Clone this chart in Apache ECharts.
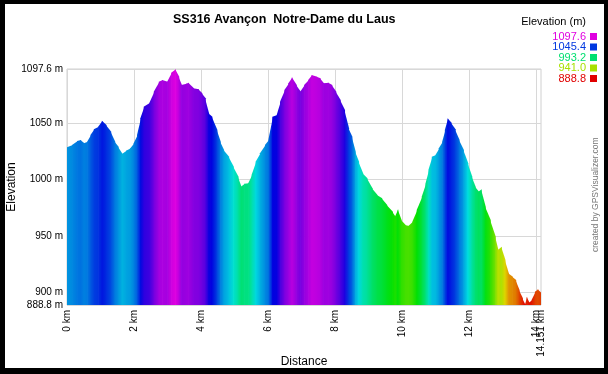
<!DOCTYPE html>
<html>
<head>
<meta charset="utf-8">
<script src="https://cdn.jsdelivr.net/npm/echarts@6/dist/echarts.min.js"></script>
<style>
html,body{margin:0;padding:0;background:#000;width:608px;height:374px;overflow:hidden;}
#bg{position:absolute;left:5px;top:4px;width:599px;height:364px;background:#fff;}
#c{position:absolute;left:0;top:0;width:608px;height:374px;}
</style>
</head>
<body>
<div id="bg"></div>
<div id="c"></div>
<script>
const titleText = 'SS316 Avançon  Notre-Dame du Laus';
const distanceKm = [0.00,0.15,0.30,0.40,0.50,0.60,0.70,0.80,0.93,1.04,1.16,1.30,1.42,1.52,1.64,1.76,1.89,1.99,2.09,2.19,2.29,2.46,2.59,2.74,2.84,2.99,3.11,3.23,3.33,3.41,3.55,3.62,3.77,3.92,4.02,4.12,4.22,4.32,4.47,4.57,4.67,4.82,4.96,5.10,5.19,5.29,5.41,5.51,5.63,5.76,5.91,6.01,6.13,6.26,6.36,6.49,6.61,6.71,6.84,6.96,7.08,7.20,7.30,7.45,7.55,7.65,7.80,7.90,8.02,8.15,8.28,8.40,8.50,8.60,8.70,8.82,8.95,9.10,9.25,9.39,9.54,9.71,9.79,9.87,9.97,10.09,10.19,10.31,10.44,10.59,10.70,10.79,10.89,11.00,11.10,11.20,11.28,11.36,11.46,11.58,11.70,11.83,11.96,12.08,12.18,12.28,12.36,12.48,12.63,12.78,12.86,12.96,13.07,13.17,13.29,13.39,13.49,13.59,13.67,13.72,13.79,13.87,13.97,14.05,14.151];
const elevationM = [1028.3,1030.4,1033.9,1034.8,1031.9,1033.3,1039.2,1044.2,1046.6,1051.9,1048.0,1042.1,1033.3,1028.9,1022.4,1025.3,1027.4,1031.9,1039.2,1054.0,1064.2,1067.8,1077.5,1086.4,1087.9,1086.4,1094.3,1097.4,1090.8,1083.4,1084.6,1085.5,1080.5,1079.6,1076.1,1071.7,1058.4,1055.4,1043.6,1033.3,1026.0,1020.0,1011.2,1002.3,993.5,996.0,996.5,1003.8,1015.6,1023.0,1030.4,1034.8,1055.4,1056.9,1068.7,1079.0,1084.9,1090.3,1083.4,1077.5,1083.4,1087.9,1092.3,1090.8,1089.4,1084.9,1085.5,1083.4,1077.5,1070.2,1061.3,1045.1,1037.7,1024.4,1015.6,1005.3,1000.9,992.1,986.1,983.2,977.3,971.4,966.9,973.5,964.0,959.6,958.7,962.5,972.8,984.6,996.0,1008.2,1020.0,1021.5,1027.4,1033.3,1043.6,1054.0,1050.1,1044.2,1034.8,1026.0,1014.2,1002.3,993.5,989.1,991.2,975.8,964.0,949.2,937.5,940.4,928.6,916.8,913.9,910.9,902.1,894.7,888.8,896.2,890.9,893.2,900.6,902.7,899.2];
const yTicks = [888.8, 900, 950, 1000, 1050, 1097.6];
const xTicks = [0, 2, 4, 6, 8, 10, 12, 14];
const xEndTick = [14.151];
const legendValues = [1097.6, 1045.4, 993.2, 941.0, 888.8];
const yMin = 888.8, yMax = 1097.6, xMax = 14.151;

function elevColor(v){
  let f = (v - yMin) / (yMax - yMin);
  f = Math.max(0, Math.min(1, f));
  const h = 300 * f, V = 224;
  const seg = Math.floor(h / 60), t = (h - seg * 60) / 60;
  let r, g, b;
  switch (seg) {
    case 0: r = V; g = V * t; b = 0; break;
    case 1: r = V * (1 - t); g = V; b = 0; break;
    case 2: r = 0; g = V; b = V * t; break;
    case 3: r = 0; g = V * (1 - t); b = V; break;
    case 4: r = V * t; g = 0; b = V; break;
    default: r = V; g = 0; b = V;
  }
  return 'rgb(' + Math.round(r) + ',' + Math.round(g) + ',' + Math.round(b) + ')';
}

const segData = [];
for (let i = 0; i < distanceKm.length - 1; i++) {
  segData.push([distanceKm[i], elevationM[i], distanceKm[i+1], elevationM[i+1]]);
}

const FONT = '"Liberation Sans", Arial, sans-serif';
const graphics = [];
graphics.push({type:'text', right: 22, top: 16, style:{text:'Elevation (m)', font:'11px ' + FONT, fill:'#000'}});
legendValues.forEach(function(v, i){
  const y = 31 + i * 10.5;
  const c = elevColor(v);
  graphics.push({type:'text', right: 22, top: y, style:{text: v.toFixed(1), font:'11px ' + FONT, fill: c}});
  graphics.push({type:'rect', shape:{x:590, y:y+2, width:7, height:7}, style:{fill:c}});
});
graphics.push({type:'text', x: 591, y: 252, rotation: Math.PI/2, style:{text:'created by GPSVisualizer.com', font:'8.5px ' + FONT, fill:'#777'}});

const xLabelBase = {hideOverlap:false, showMinLabel:true, showMaxLabel:true, rotate:90, margin:5, fontFamily:FONT, fontSize:10, color:'#000', formatter: function(v){ return v + ' km'; }};

const chart = echarts.init(document.getElementById('c'), null, {renderer:'canvas'});
chart.setOption({
  backgroundColor: 'transparent',
  animation: false,
  title: {text: titleText, left: 168, top: 8, textStyle:{fontFamily:FONT, fontSize:12.5, fontWeight:'bold', color:'#000'}},
  graphic: graphics,
  grid: {left: 67, right: 67, top: 69, bottom: 69, containLabel:false, outerBoundsMode:'none', show: true, borderColor:'#d0d0d0', borderWidth:1, backgroundColor:'transparent'},
  xAxis: [{
    type:'value', min:0, max:xMax, position:'bottom',
    name:'Distance', nameLocation:'middle', nameGap:51, nameMoveOverlap:false,
    nameTextStyle:{fontFamily:FONT, fontSize:12, color:'#000'},
    axisLine:{show:false}, axisTick:{show:false, customValues: xTicks},
    axisLabel:Object.assign({customValues: xTicks}, xLabelBase),
    splitLine:{show:true, customValues: xTicks, lineStyle:{color:'#d8d8d8', width:1}}
  }, {
    type:'value', min:0, max:xMax, position:'bottom', offset:0,
    axisLine:{show:false}, axisTick:{show:false, customValues: xEndTick},
    axisLabel:Object.assign({customValues: xEndTick}, xLabelBase),
    splitLine:{show:false}
  }],
  yAxis: {
    type:'value', min:yMin, max:yMax,
    name:'Elevation', nameLocation:'middle', nameGap:49, nameMoveOverlap:false,
    nameTextStyle:{fontFamily:FONT, fontSize:12, color:'#000'},
    axisLine:{show:false}, axisTick:{show:false, customValues: yTicks},
    axisLabel:{customValues: yTicks, hideOverlap:false, showMaxLabel:true, showMinLabel:true, margin:4, fontFamily:FONT, fontSize:10, color:'#000', formatter: function(v){ return v + ' m'; }},
    splitLine:{show:true, customValues: yTicks, lineStyle:{color:'#d8d8d8', width:1}}
  },
  series: [{
    type:'custom',
    clip:true,
    xAxisIndex:0,
    data: segData,
    encode:{x:[0,2], y:[1,3]},
    renderItem: function(params, api){
      const v0 = api.value(1), v1 = api.value(3);
      const p0 = api.coord([api.value(0), v0]);
      const p1 = api.coord([api.value(2), v1]);
      const yb = api.coord([0, yMin])[1];
      return {
        type:'polygon',
        shape:{points:[[p0[0], p0[1]], [p1[0]+0.7, p1[1]], [p1[0]+0.7, yb], [p0[0], yb]]},
        style:{fill: new echarts.graphic.LinearGradient(0,0,1,0,[{offset:0,color:elevColor(v0)},{offset:1,color:elevColor(v1)}])}
      };
    }
  }]
});
</script>
</body>
</html>
